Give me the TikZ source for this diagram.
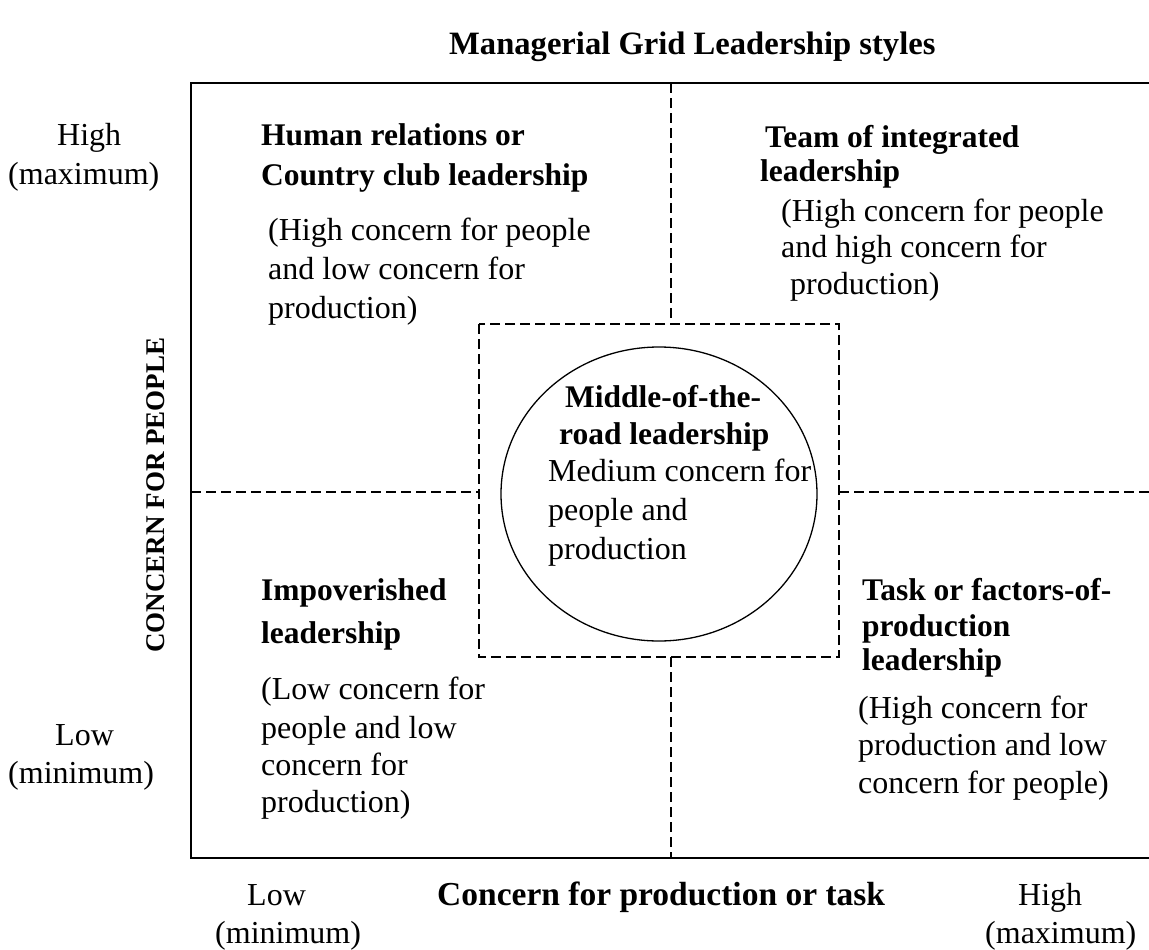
\documentclass[tikz,border=0pt]{standalone}
\usepackage{fontspec}
\usetikzlibrary{shapes.geometric}
\setmainfont{Liberation Serif}
\tikzset{
  txt/.style={anchor=base west, inner sep=0pt, font=\fontsize{32}{38}\selectfont},
  btxt/.style={txt, font=\fontsize{31.5}{38}\selectfont\bfseries},
  frame/.style={draw=black, line width=1.6pt},
  dashline/.style={draw=black, line width=1.2pt, dash pattern=on 10pt off 5pt},
}
\begin{document}
\begin{tikzpicture}[x=1pt,y=-1pt]
\useasboundingbox (0,0) rectangle (1149,950);
% frame
\coordinate (tr) at (1149,83);
\coordinate (tl) at (191,83);
\coordinate (bl) at (191,858);
\coordinate (br) at (1149,858);
\draw[frame] (tr) -- (tl) -- (bl) -- (br);
% dashed middle box
\coordinate (mtl) at (479,324);
\coordinate (mbr) at (839,657);
\draw[dashline] (mtl) rectangle (mbr);
% dashed axis lines
\coordinate (vt) at (671,83);
\coordinate (vtm) at (671,324);
\coordinate (vbm) at (671,657);
\coordinate (vb) at (671,858);
\coordinate (hl) at (191,492);
\coordinate (hlm) at (479,492);
\coordinate (hrm) at (839,492);
\coordinate (hr) at (1149,492);
\draw[dashline] (vt) -- (vtm);
\draw[dashline] (vbm) -- (vb);
\draw[dashline] (hl) -- (hlm);
\draw[dashline] (hrm) -- (hr);
% ellipse
\node[draw=black, line width=1.3pt, ellipse, minimum width=316pt, minimum height=294pt, inner sep=0pt] (mid) at (659,494) {};
% title
\node[btxt, font=\fontsize{32.6}{38}\selectfont\bfseries] (title) at (449,55) {Managerial Grid Leadership styles};
% left axis labels
\node[txt] (hi1) at (57,145) {High};
\node[txt] (hi2) at (8,184) {(maximum)};
\node[txt] (lo1) at (55,745) {Low};
\node[txt] (lo2) at (8,783) {(minimum)};
\node[inner sep=0pt, rotate=90, font=\fontsize{27}{32}\selectfont\bfseries] (yax) at (156,495) {CONCERN FOR PEOPLE};
% top-left
\node[btxt] (tl1) at (261,145) {Human relations or};
\node[btxt] (tl2) at (261,185) {Country club leadership};
\node[txt] (tl3) at (268,240) {(High concern for people};
\node[txt] (tl4) at (268,279) {and low concern for};
\node[txt] (tl5) at (268,318) {production)};
% top-right
\node[btxt] (tr1) at (765,147) {Team of integrated};
\node[btxt] (tr2) at (760,181) {leadership};
\node[txt] (tr3) at (781,221) {(High concern for people};
\node[txt] (tr4) at (781,257) {and high concern for};
\node[txt] (tr5) at (790,294) {production)};
% centre
\node[btxt] (c1) at (565,407) {Middle-of-the-};
\node[btxt] (c2) at (559,444) {road leadership};
\node[txt] (c3) at (548,481) {Medium concern for};
\node[txt] (c4) at (548,520) {people and};
\node[txt] (c5) at (548,559) {production};
% bottom-left
\node[btxt] (bl1) at (261,600) {Impoverished};
\node[btxt] (bl2) at (261,643) {leadership};
\node[txt] (bl3) at (261,699) {(Low concern for};
\node[txt] (bl4) at (261,738) {people and low};
\node[txt] (bl5) at (261,775) {concern for};
\node[txt] (bl6) at (261,812) {production)};
% bottom-right
\node[btxt] (br1) at (862,600) {Task or factors-of-};
\node[btxt] (br2) at (862,636) {production};
\node[btxt] (br3) at (862,670) {leadership};
\node[txt] (br4) at (858,718) {(High concern for};
\node[txt] (br5) at (858,755) {production and low};
\node[txt] (br6) at (858,793) {concern for people)};
% bottom axis
\node[txt] (xl1) at (247,905) {Low};
\node[txt] (xl2) at (215,943) {(minimum)};
\node[btxt, font=\fontsize{33.5}{38}\selectfont\bfseries] (xax) at (437,905) {Concern for production or task};
\node[txt] (xh1) at (1018,905) {High};
\node[txt] (xh2) at (985,943) {(maximum)};
\end{tikzpicture}
\end{document}
